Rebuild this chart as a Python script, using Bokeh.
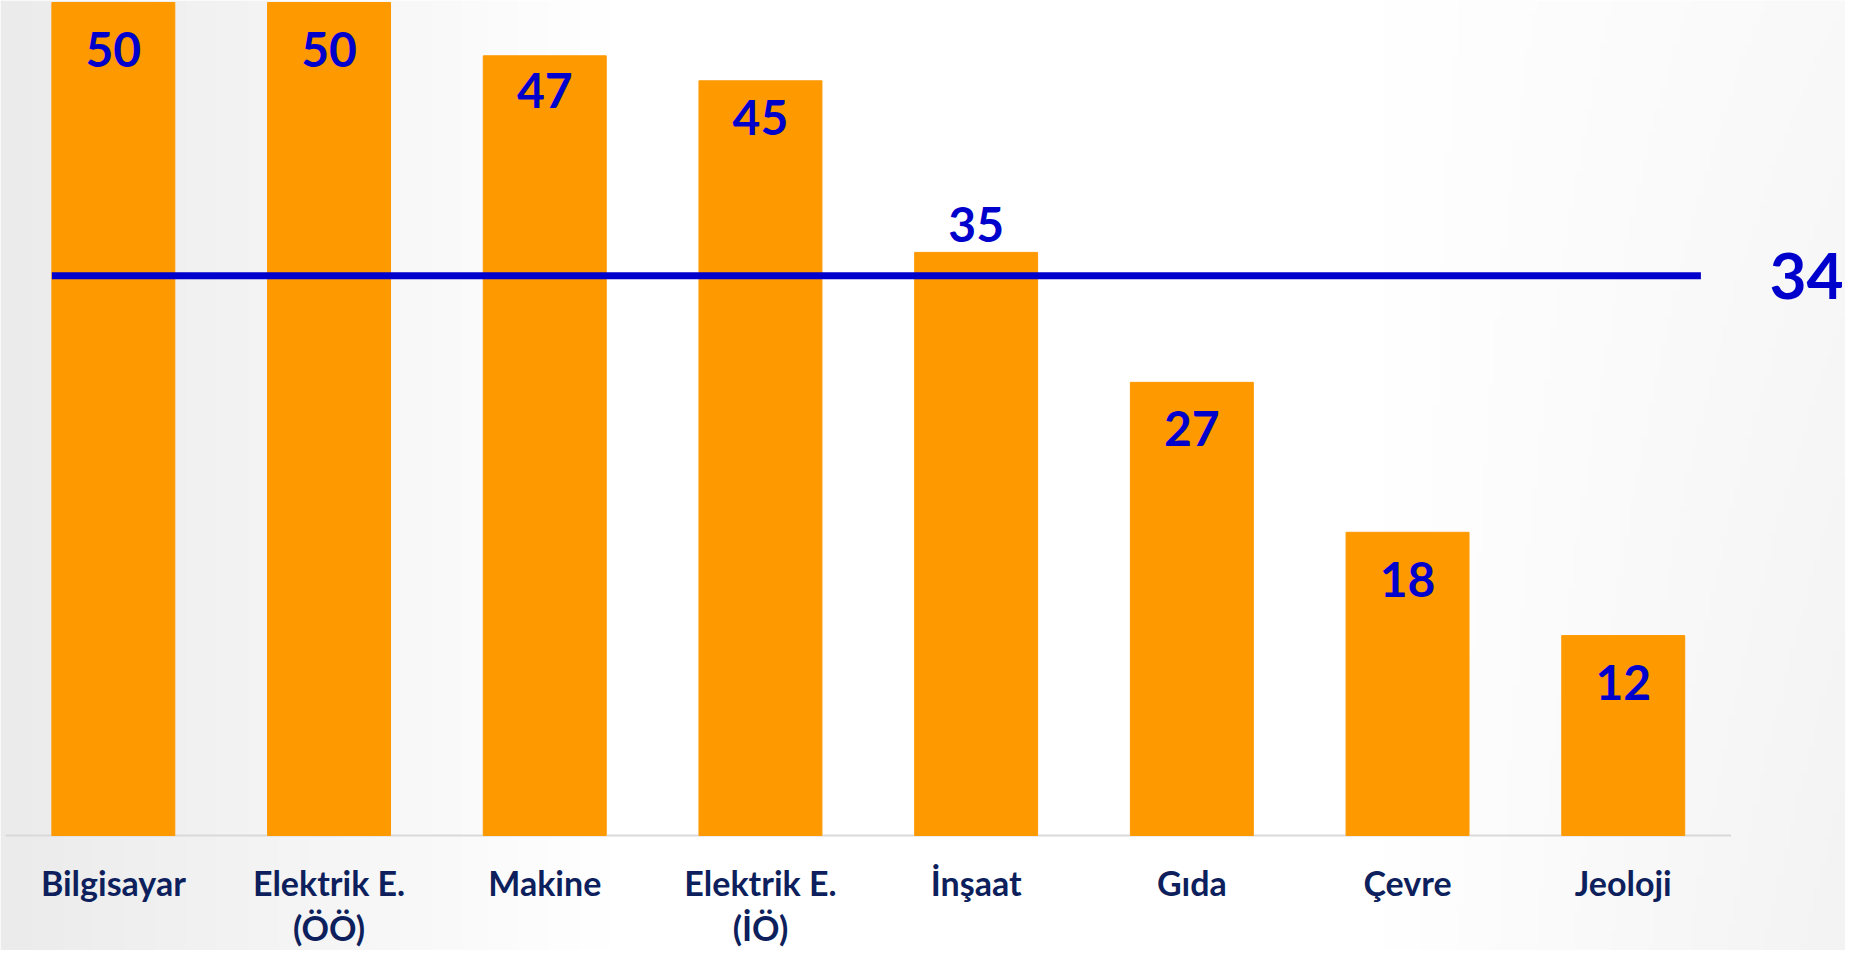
import numpy as np
from bokeh.plotting import figure
from bokeh.models import Range1d
from bokeh.core.properties import value
from bokeh.embed import file_html
from bokeh.resources import INLINE

# ---- data ----
categories = ["Bilgisayar", "Elektrik E.\n(ÖÖ)", "Makine", "Elektrik E.\n(İÖ)",
              "İnşaat", "Gıda", "Çevre", "Jeoloji"]
values = [50, 50, 46.8, 45.3, 35, 27.2, 18.2, 12]
average = 33.6

# ---- style ----
label_offset_px = [47, 47, 35, 37, -28, 46, 47, 47]   # +: inside below top, -: above
BAR = "#FF9900"
BLUE = "#0000CC"
NAVY = "#0D1F5C"
FONT = "Lato"

W, H = 1845, 950
ppu_y = 833 / 50.0           # pixels per value unit
ppu_x = 215.7                # pixels per category
base_px = 835                # baseline position inside figure (from top)
y_end = base_px / ppu_y
y_start = -(H - base_px) / ppu_y
x_start = -5 / ppu_x
x_end = x_start + W / ppu_x

p = figure(width=W, height=H, x_range=Range1d(x_start, x_end),
           y_range=Range1d(y_start, y_end), x_axis_location=None,
           y_axis_location=None, toolbar_location=None, output_backend="svg",
           min_border=0, outline_line_color=None)
p.grid.visible = False
p.background_fill_color = "white"
p.border_fill_color = "white"

# soft background gradient
nx, ny = 300, 150
t = np.linspace(0, 1, nx)[None, :]
s = np.linspace(0, 1, ny)[:, None]   # 0 bottom, 1 top
g = 255 - 20 * np.clip((0.33 - t) / 0.33, 0, 1) - 12 * np.clip((t - 0.75) / 0.25, 0, 1) * (1 - 0.5 * s)
g = np.clip(g, 0, 255).astype(np.uint32)
img = (255 << 24) | (g << 16) | (g << 8) | g
p.image_rgba(image=[img.astype(np.uint32)], x=x_start, y=y_start,
             dw=x_end - x_start, dh=y_end - y_start)

n = len(categories)
xs = [i + 0.5 for i in range(n)]
bw = 0.57

# baseline
p.segment(x0=[0], y0=[0], x1=[n], y1=[0], line_color="#d9d9d9", line_width=2)

# bars
p.vbar(x=xs, top=values, width=bw, bottom=0, fill_color=BAR, line_color=BAR)

# average line
p.line(x=[0.5 - bw / 2, n - 0.14], y=[average, average], line_color=BLUE, line_width=7)
p.text(x=[n + 0.35], y=[average], text=[f"{average:.0f}"], text_font=value(FONT),
       text_font_style="bold", text_font_size="64px", text_color=BLUE,
       text_align="center", text_baseline="middle")

# value labels
ly = [v - off / ppu_y for v, off in zip(values, label_offset_px)]
p.text(x=xs, y=ly, text=[f"{v:.0f}" for v in values], text_font=value(FONT),
       text_font_style="bold", text_font_size="48px", text_color=BLUE,
       text_align="center", text_baseline="middle")

# category labels
p.text(x=xs, y=[-26 / ppu_y] * n, text=categories, text_font=value(FONT),
       text_font_style="bold", text_font_size="34px", text_color=NAVY,
       text_align="center", text_baseline="top", text_line_height=1.1)

open("out.html", "w").write(file_html(p, INLINE))
